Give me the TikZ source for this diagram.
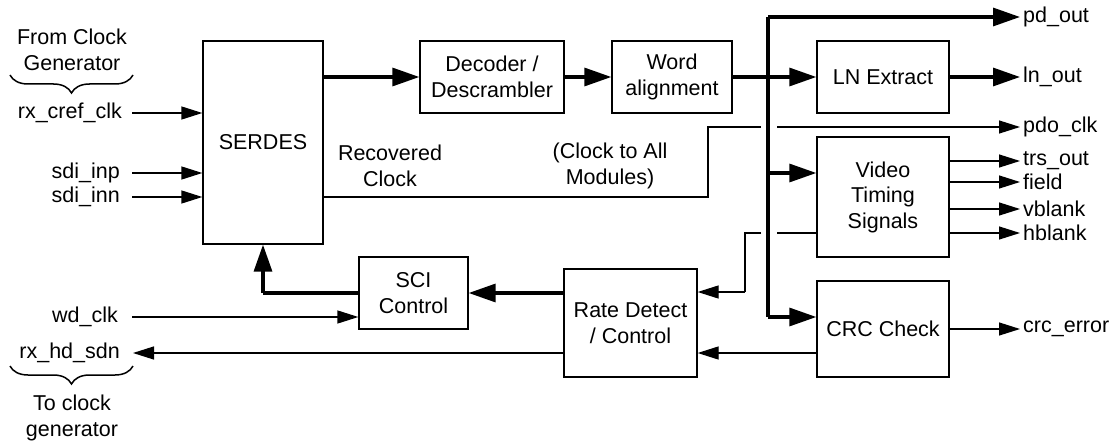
\documentclass[tikz,border=0pt]{standalone}
\usepackage{fontspec}
\setmainfont{Liberation Sans}
\usetikzlibrary{arrows.meta,decorations.pathreplacing}
\begin{document}
\begin{tikzpicture}[x=1pt,y=-1pt,
  every node/.style={font=\fontsize{21.5}{25.5}\selectfont},
  blk/.style={draw,line width=1.3pt,align=center,inner sep=0pt},
  thin/.style={line width=1.3pt},
  thk/.style={line width=3.2pt},
  tarr/.style={thin,-{Triangle[length=21pt,width=13pt]}},
  karr/.style={thk,-{Triangle[length=27pt,width=18pt]}},
  lbl/.style={inner sep=0pt,align=center},
  brc/.style={decorate,decoration={brace,mirror,amplitude=18pt},line width=1.5pt}]
\useasboundingbox (0,0) rectangle (1120,444);
% blocks
\node[blk,minimum width=120pt,minimum height=203pt] (serdes) at (263,142.5) {SERDES};
\node[blk,minimum width=144pt,minimum height=72pt] (dec) at (492,77) {Decoder /\\Descrambler};
\node[blk,minimum width=120pt,minimum height=72pt] (word) at (672,77) {Word\\alignment};
\node[blk,minimum width=132pt,minimum height=72pt] (ln) at (883,77) {LN Extract};
\node[blk,minimum width=132pt,minimum height=120pt] (vts) at (883,197) {Video\\Timing\\Signals};
\node[blk,minimum width=132pt,minimum height=96pt] (crc) at (883,329) {CRC Check};
\node[blk,minimum width=133pt,minimum height=108pt] (rate) at (630.5,323) {Rate Detect\\/ Control};
\node[blk,minimum width=109pt,minimum height=72pt] (sci) at (413.5,293) {SCI\\Control};
% left labels
\node[lbl,anchor=east] (lcref) at (122,113) {rx\_cref\_clk};
\node[lbl,anchor=east] (linp) at (120,173) {sdi\_inp};
\node[lbl,anchor=east] (linn) at (120,197) {sdi\_inn};
\node[lbl,anchor=east] (lwd) at (118,317) {wd\_clk};
\node[lbl,anchor=east] (lsdn) at (120,353) {rx\_hd\_sdn};
\node[lbl] (from) at (72,50) {From Clock\\Generator};
\node[lbl] (to) at (72,418) {To clock\\generator};
\node[lbl] (rec) at (390,166) {Recovered\\Clock};
\node[lbl] (all) at (610,166) {(Clock to All\\Modules)};
% right labels
\node[lbl,anchor=west] (opd) at (1023,17) {pd\_out};
\node[lbl,anchor=west] (oln) at (1023,77) {ln\_out};
\node[lbl,anchor=west] (opdo) at (1023,127) {pdo\_clk};
\node[lbl,anchor=west] (otrs) at (1023,161) {trs\_out};
\node[lbl,anchor=west] (ofield) at (1023,182) {field};
\node[lbl,anchor=west] (ovb) at (1023,209) {vblank};
\node[lbl,anchor=west] (ohb) at (1023,233) {hblank};
\node[lbl,anchor=west] (ocrc) at (1023,329) {crc\_error};
% coordinates
\coordinate (icref) at (132,113);
\coordinate (iinp) at (132,173);
\coordinate (iinn) at (132,197);
\coordinate (iwd) at (132,317);
\coordinate (isdn) at (133,353);
\coordinate (bustop) at (768,17);
\coordinate (busln) at (768,77);
\coordinate (busvts) at (768,173);
\coordinate (busbot) at (768,317);
\coordinate (tpd) at (1020,17);
\coordinate (tln) at (1020,77);
\coordinate (tpdo) at (1020,127);
\coordinate (ttrs) at (1020,161);
\coordinate (tfield) at (1020,182);
\coordinate (tvb) at (1020,209);
\coordinate (thb) at (1020,233);
\coordinate (tcrc) at (1020,329);
\coordinate (c1) at (708,197);
\coordinate (c2) at (708,127);
\coordinate (c3) at (761,127);
\coordinate (c4) at (777,127);
\coordinate (d1) at (777,233);
\coordinate (d2) at (761,233);
\coordinate (d3) at (745,233);
\coordinate (d4) at (745,292);
\coordinate (s1) at (263,293);
% braces
\draw[brc] (10,75) -- (133,75);
\draw[brc] (10,366) -- (133,366);
% inputs
\draw[tarr] (icref) -- (serdes.west |- icref);
\draw[tarr] (iinp) -- (serdes.west |- iinp);
\draw[tarr] (iinn) -- (serdes.west |- iinn);
\draw[tarr] (iwd) -- (sci.west |- iwd);
% datapath
\draw[karr] (serdes.east |- dec.west) -- (dec.west);
\draw[karr] (dec.east) -- (word.west);
\draw[karr] (word.east) -- (ln.west);
\draw[karr] (ln.east) -- (tln);
\draw[thk] (bustop) -- (busbot);
\draw[karr] (bustop) -- (tpd);
\draw[karr] (busvts) -- (vts.west |- busvts);
\draw[karr] (busbot) -- (crc.west |- busbot);
% clock
\draw[thin] (serdes.east |- c1) -- (c1) -- (c2) -- (c3);
\draw[tarr] (c4) -- (tpdo);
\draw[thin] (vts.west |- d1) -- (d1);
\draw[thin] (d2) -- (d3) -- (d4);
\draw[tarr] (d4) -- (rate.east |- d4);
% vts outputs
\draw[tarr] (vts.east |- ttrs) -- (ttrs);
\draw[tarr] (vts.east |- tfield) -- (tfield);
\draw[tarr] (vts.east |- tvb) -- (tvb);
\draw[tarr] (vts.east |- thb) -- (thb);
\draw[tarr] (crc.east |- tcrc) -- (tcrc);
% control
\draw[tarr] (crc.west |- isdn) -- (rate.east |- isdn);
\draw[tarr] (rate.west |- isdn) -- (isdn);
\draw[karr] (rate.west |- sci.east) -- (sci.east);
\draw[thk] (sci.west) -- (s1);
\draw[karr] (s1) -- (serdes.south);
\end{tikzpicture}
\end{document}
